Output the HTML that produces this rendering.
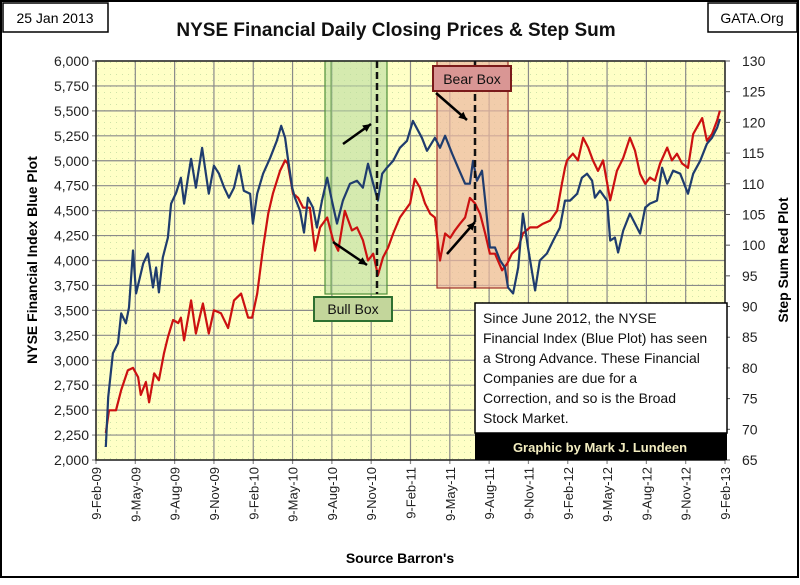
<!DOCTYPE html>
<html><head><meta charset="utf-8"><style>
html,body{margin:0;padding:0;background:#fff;}
body{width:800px;height:580px;overflow:hidden;font-family:"Liberation Sans",sans-serif;}
svg text{font-family:"Liberation Sans",sans-serif;}
</style></head><body>
<svg id="chart" width="800" height="580" xmlns="http://www.w3.org/2000/svg">
<defs>
<pattern id="dots" width="6" height="6" patternUnits="userSpaceOnUse">
<rect width="6" height="6" fill="#FFFFC6"/><rect x="2" y="2" width="1" height="1" fill="#CFE3A8"/>
</pattern>
</defs>
<rect x="1" y="1" width="797" height="576" fill="#fff" stroke="#000" stroke-width="2"/>
<rect x="3" y="3" width="105" height="29" fill="#fff" stroke="#000" stroke-width="1.5"/>
<text x="55" y="23" font-size="14" text-anchor="middle">25 Jan 2013</text>
<rect x="708" y="3" width="89" height="29" fill="#fff" stroke="#000" stroke-width="1.5"/>
<text x="752" y="23" font-size="14" text-anchor="middle">GATA.Org</text>
<text x="396" y="36" font-size="19" font-weight="bold" text-anchor="middle" fill="#111">NYSE Financial  Daily Closing Prices &amp; Step Sum</text>
<rect x="96" y="61" width="629" height="399" fill="url(#dots)"/>
<g id="grid"></g>
<g id="boxes"></g>
<g id="series"></g>
<rect x="96" y="61" width="629" height="399" fill="none" stroke="#222" stroke-width="1.5"/>
<g id="axes"></g>
<g id="annot"></g>
<text transform="translate(37,260) rotate(-90)" font-size="14" font-weight="bold" text-anchor="middle">NYSE Financial Index Blue Plot</text>
<text transform="translate(788,260) rotate(-90)" font-size="14" font-weight="bold" text-anchor="middle">Step Sum Red Plot</text>
<text x="400" y="563" font-size="14" font-weight="bold" text-anchor="middle">Source Barron's</text>
</svg>
<script>
// x in quarters since 9-Feb-09
const xLabels = ["9-Feb-09","9-May-09","9-Aug-09","9-Nov-09","9-Feb-10","9-May-10","9-Aug-10","9-Nov-10","9-Feb-11","9-May-11","9-Aug-11","9-Nov-11","9-Feb-12","9-May-12","9-Aug-12","9-Nov-12","9-Feb-13"];
const leftTicks = [2000,2250,2500,2750,3000,3250,3500,3750,4000,4250,4500,4750,5000,5250,5500,5750,6000];
const rightTicks = [65,70,75,80,85,90,95,100,105,110,115,120,125,130];
const blueT = [0.25,0.31,0.43,0.56,0.64,0.76,0.84,0.94,1.02,1.20,1.32,1.45,1.53,1.60,1.70,1.83,1.91,2.04,2.16,2.24,2.34,2.42,2.54,2.70,2.87,3.00,3.13,3.26,3.38,3.51,3.64,3.76,3.92,3.99,4.10,4.25,4.43,4.60,4.71,4.81,4.88,4.99,5.06,5.19,5.29,5.39,5.52,5.62,5.75,5.88,6.00,6.13,6.28,6.46,6.64,6.79,6.92,7.05,7.17,7.28,7.40,7.56,7.73,7.91,8.06,8.29,8.42,8.62,8.75,8.88,9.06,9.21,9.39,9.51,9.59,9.69,9.82,9.90,10.02,10.15,10.28,10.40,10.48,10.61,10.74,10.86,10.99,11.17,11.29,11.47,11.63,11.80,11.93,12.06,12.24,12.36,12.49,12.62,12.69,12.82,13.00,13.08,13.20,13.28,13.41,13.58,13.71,13.84,13.97,14.09,14.27,14.40,14.53,14.68,14.86,15.06,15.19,15.37,15.54,15.67,15.80,15.87];
const blueV = [2130,2630,3070,3170,3470,3370,3530,4100,3670,3970,4070,3730,3930,3680,4030,4230,4570,4680,4830,4570,4830,5020,4730,5130,4670,4950,4870,4730,4630,4730,4950,4700,4670,4370,4670,4870,5030,5200,5350,5230,5030,4730,4630,4500,4280,4630,4530,4330,4600,4830,4600,4370,4600,4770,4800,4730,4970,4770,4600,4870,4930,5000,5130,5200,5400,5230,5100,5230,5130,5250,5070,4930,4770,4770,5000,4800,4900,4600,4130,4130,4000,3930,3730,3670,3930,4470,4130,3700,4000,4070,4200,4330,4600,4600,4670,4830,4870,4800,4630,4700,4600,4200,4230,4080,4300,4470,4370,4270,4530,4570,4600,4930,4770,4900,4870,4670,4870,5000,5170,5230,5330,5420];
const redT = [0.25,0.33,0.51,0.64,0.81,0.94,1.07,1.14,1.27,1.35,1.48,1.60,1.73,1.83,1.96,2.09,2.16,2.24,2.42,2.54,2.72,2.87,3.00,3.18,3.36,3.51,3.69,3.87,3.97,4.10,4.25,4.38,4.50,4.68,4.81,4.88,5.01,5.14,5.27,5.44,5.57,5.70,5.88,6.03,6.16,6.33,6.51,6.64,6.79,6.92,7.05,7.17,7.30,7.43,7.56,7.73,7.91,7.99,8.11,8.24,8.37,8.50,8.62,8.75,8.88,9.01,9.13,9.26,9.39,9.51,9.64,9.77,9.90,10.02,10.15,10.33,10.46,10.58,10.74,10.86,11.04,11.22,11.37,11.55,11.73,11.85,11.93,11.98,12.13,12.26,12.39,12.52,12.64,12.77,12.90,13.08,13.25,13.41,13.58,13.71,13.84,13.97,14.09,14.22,14.35,14.53,14.65,14.78,14.91,15.06,15.19,15.42,15.54,15.67,15.80,15.87];
const redV = [69.4,73.1,73.1,76.4,79.6,80.0,78.5,75.6,77.7,74.4,79.1,78.0,82.4,85.0,87.8,87.3,88.2,84.5,91.0,85.6,90.5,85.6,89.4,88.9,86.5,91.0,92.1,88.2,88.2,92.1,99.6,105.1,108.4,112.1,113.8,113.3,108.4,107.7,106.1,106.1,99.1,102.9,104.5,100.8,99.1,105.6,102.4,102.9,100.8,97.5,98.6,95.1,98.0,99.6,101.9,104.5,106.1,106.8,110.8,109.4,106.8,105.1,104.5,97.5,101.9,101.2,102.4,103.5,104.5,107.7,106.8,105.1,101.9,98.6,98.6,95.9,97.0,98.6,99.6,101.9,102.9,102.9,103.5,104.0,105.6,110.0,112.6,113.8,114.9,113.8,117.5,115.9,113.8,112.1,113.8,107.3,112.1,114.2,117.5,115.4,111.6,110.0,111.0,110.5,113.3,115.9,113.8,114.9,113.3,112.6,118.1,120.7,117.0,118.1,120.3,121.9];

const NS="http://www.w3.org/2000/svg";
const PL=96, PR=725, PT=61, PB=460;
const xq = q => PL + q*(PR-PL)/16;
const yL = v => PB - (v-2000)*(PB-PT)/4000;
const yR = v => PB - (v-65)*(PB-PT)/65;
function mk(tag, attrs, parent){const e=document.createElementNS(NS,tag);for(const k in attrs)e.setAttribute(k,attrs[k]);parent.appendChild(e);return e;}
const grid=document.getElementById('grid'), axes=document.getElementById('axes'), series=document.getElementById('series'), boxes=document.getElementById('boxes'), annot=document.getElementById('annot');

leftTicks.forEach((v,i)=>{
  const y=yL(v);
  const l=mk('line',{x1:PL-4,x2:PR,y1:y,y2:y,stroke:'#8a8a8a','stroke-width':1.2},grid);
  
  
  const t=mk('text',{x:PL-7,y:y+5,'font-size':14,'text-anchor':'end',fill:'#222'},axes);
  t.textContent=v.toLocaleString('en-US');
  
  
});
rightTicks.forEach(v=>{
  const y=yR(v);
  mk('line',{x1:PR,x2:PR+5,y1:y,y2:y,stroke:'#555','stroke-width':1},axes);
  const t=mk('text',{x:PR+17,y:y+5,'font-size':14,fill:'#222'},axes);
  t.textContent=v;
  
  
});
xLabels.forEach((s,i)=>{
  const x=xq(i);
  const l=mk('line',{x1:x,x2:x,y1:PT,y2:PB+4,stroke:'#8a8a8a','stroke-width':1.2},grid);
  
  
  const t=mk('text',{transform:`translate(${x+5},${PB+7}) rotate(-90)`,'font-size':13,'text-anchor':'end',fill:'#222'},axes);
  t.textContent=s;
  
  
});

const bull=mk('rect',{x:325,y:PT,width:62,height:233,fill:'#B9DCA0','fill-opacity':0.6,stroke:'#4f8f3a','stroke-width':1.2},boxes);


mk('line',{x1:331,x2:331,y1:PT,y2:294,stroke:'#6aa050','stroke-width':1},boxes);
const bear=mk('rect',{x:437,y:PT,width:71,height:227,fill:'#EDB8A0','fill-opacity':0.7,stroke:'#a0302a','stroke-width':1.2},boxes);



function path(T,V,yf,color,name){
  let d='';T.forEach((t,i)=>{d+=(i?'L':'M')+xq(t).toFixed(1)+','+yf(V[i]).toFixed(1);});
  const p=mk('path',{d,fill:'none',stroke:color,'stroke-width':2.2,'stroke-linejoin':'round'},series);
  
  
}
path(redT,redV,yR,'#CC1111','red-step-sum-line');
path(blueT,blueV,yL,'#1F3C6E','blue-nyse-financial-line');

const d1=mk('line',{x1:377,x2:377,y1:PT,y2:294,stroke:'#111','stroke-width':2.5,'stroke-dasharray':'7,4'},annot);


const d2=mk('line',{x1:475,x2:475,y1:PT,y2:292,stroke:'#111','stroke-width':2.5,'stroke-dasharray':'7,4'},annot);


function arrow(x1,y1,x2,y2,name){
  const ln=mk('line',{x1,y1,x2,y2,stroke:'#000','stroke-width':2.5},annot);
  
  
  const a=Math.atan2(y2-y1,x2-x1),L=9,w=0.45;
  const p=`${x2},${y2} ${x2-L*Math.cos(a-w)},${y2-L*Math.sin(a-w)} ${x2-L*Math.cos(a+w)},${y2-L*Math.sin(a+w)}`;
  mk('polygon',{points:p,fill:'#000'},annot);
}
arrow(343,144,371,124,'bull-up-arrow');
arrow(333,242,367,265,'bull-down-arrow');
arrow(436,93,467,120,'bear-down-arrow');
arrow(447,254,475,222,'bear-up-arrow');

const bl=mk('rect',{x:314,y:297,width:78,height:24,fill:'#C3D69B',stroke:'#2E7030','stroke-width':2},annot);


const blt=mk('text',{x:353,y:314,'font-size':14,'text-anchor':'middle',fill:'#111'},annot);blt.textContent='Bull Box';
const br=mk('rect',{x:433,y:66,width:78,height:25,fill:'#D99694',stroke:'#7a1a1a','stroke-width':2},annot);


const brt=mk('text',{x:472,y:84,'font-size':14,'text-anchor':'middle',fill:'#111'},annot);brt.textContent='Bear Box';

const cb=mk('rect',{x:475,y:303,width:252,height:130,fill:'#fff',stroke:'#000','stroke-width':1.5},annot);


["Since June 2012, the NYSE","Financial Index (Blue Plot) has seen","a Strong Advance.  These Financial","Companies  are due for a","Correction, and so is the Broad","Stock Market."].forEach((s,i)=>{
  const t=mk('text',{x:483,y:323+i*20,'font-size':14,fill:'#111','xml:space':'preserve'},annot);
  t.textContent=s;
  
  
});
const bb=mk('rect',{x:475,y:433,width:252,height:27,fill:'#000'},annot);


const ct=mk('text',{x:600,y:452,'font-size':13,'font-weight':'bold','text-anchor':'middle',fill:'#F3EDC0','font-family':'"Liberation Serif",serif'},annot);
ct.textContent='Graphic by Mark J. Lundeen';


</script>
</body></html>
